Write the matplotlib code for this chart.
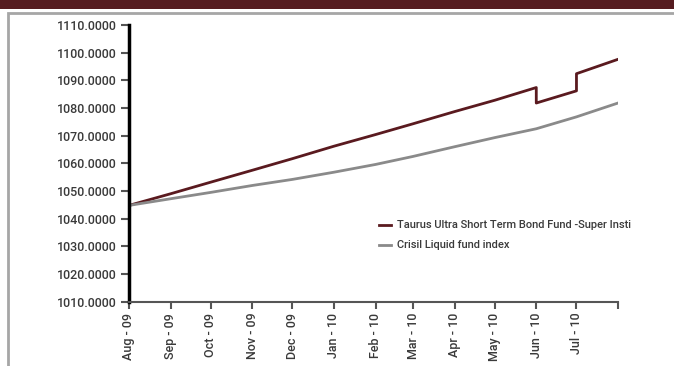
import matplotlib
matplotlib.use("Agg")
import matplotlib.pyplot as plt
import pandas as pd
from matplotlib.patches import Rectangle

# NAV readings (first of each month, plus the two step changes in Jun/Jul 2010)
taurus_dates = ["2009-08-01", "2009-09-01", "2009-10-01", "2009-11-01", "2009-12-01",
                "2010-01-01", "2010-02-01", "2010-03-01", "2010-04-01", "2010-05-01",
                "2010-06-01", "2010-06-01", "2010-07-01", "2010-07-01", "2010-08-01"]
taurus_nav = [1044.8, 1049.0, 1053.2, 1057.5, 1061.7,
              1066.2, 1070.4, 1074.3, 1078.7, 1082.8,
              1087.4, 1081.8, 1086.2, 1092.4, 1097.6]

crisil_dates = ["2009-08-01", "2009-09-01", "2009-10-01", "2009-11-01", "2009-12-01",
                "2010-01-01", "2010-02-01", "2010-03-01", "2010-04-01", "2010-05-01",
                "2010-06-01", "2010-07-01", "2010-08-01"]
crisil_nav = [1044.8, 1047.2, 1049.5, 1052.0, 1054.2,
              1056.8, 1059.6, 1062.5, 1066.0, 1069.3,
              1072.5, 1076.8, 1081.8]

series_names = ["Taurus Ultra Short Term Bond Fund -Super Insti", "Crisil Liquid fund index"]
y_ticks = [1010, 1020, 1030, 1040, 1050, 1060, 1070, 1080, 1090, 1100, 1110]

maroon = "#5a1a1f"
grey = "#8a8a8a"
txt = "#3a3a3a"

plt.rcParams["font.family"] = ["Roboto", "DejaVu Sans"]
plt.rcParams["font.weight"] = "medium"

fig = plt.figure(figsize=(6.74, 3.66), dpi=100)

# header band and outer frame
fig.patches.append(Rectangle((0, 1 - 9 / 366), 1, 9 / 366, transform=fig.transFigure,
                             facecolor="#561c20", edgecolor="none", zorder=0))
fig.patches.append(Rectangle((8 / 674, -0.1), 1.2, 1 - 13 / 366 + 0.1, transform=fig.transFigure,
                             facecolor="none", edgecolor="#a6a6a6", linewidth=2, zorder=0))

ax = fig.add_axes([129 / 674, 1 - 301.7 / 366, (618 - 129) / 674, (301.7 - 25) / 366])

t_dates = pd.to_datetime(taurus_dates)
c_dates = pd.to_datetime(crisil_dates)
ax.plot(t_dates, taurus_nav, color=maroon, linewidth=2, label=series_names[0])
ax.plot(c_dates, crisil_nav, color=grey, linewidth=2, label=series_names[1])

ax.set_xlim(pd.Timestamp("2009-08-01"), pd.Timestamp("2010-08-01"))
ax.set_ylim(1010, 1110)
ax.set_yticks(y_ticks)
ax.yaxis.set_major_formatter(matplotlib.ticker.FormatStrFormatter("%.4f"))

month_ticks = pd.date_range("2009-08-01", "2010-08-01", freq="MS")
ax.set_xticks(month_ticks)
ax.set_xticklabels([d.strftime("%b - %y") for d in month_ticks[:-1]] + [""],
                   rotation=90)

for s in ["top", "right"]:
    ax.spines[s].set_visible(False)
ax.spines["left"].set_color("black")
ax.spines["left"].set_linewidth(2.5)
ax.spines["bottom"].set_color("#555555")
ax.spines["bottom"].set_linewidth(1.5)

ax.tick_params(axis="y", direction="out", length=6, width=1.5, color="#555555",
               labelsize=9, labelcolor=txt, pad=3)
ax.tick_params(axis="x", direction="out", length=5, width=1.5, color="#555555",
               labelsize=9, labelcolor=txt, pad=3)

ax.legend(loc="upper left", bbox_to_anchor=(0.49, 0.33), frameon=False,
          fontsize=8, handlelength=1.1, handletextpad=0.6, labelspacing=0.9,
          labelcolor=txt)

fig.savefig("out.png", dpi=100)
